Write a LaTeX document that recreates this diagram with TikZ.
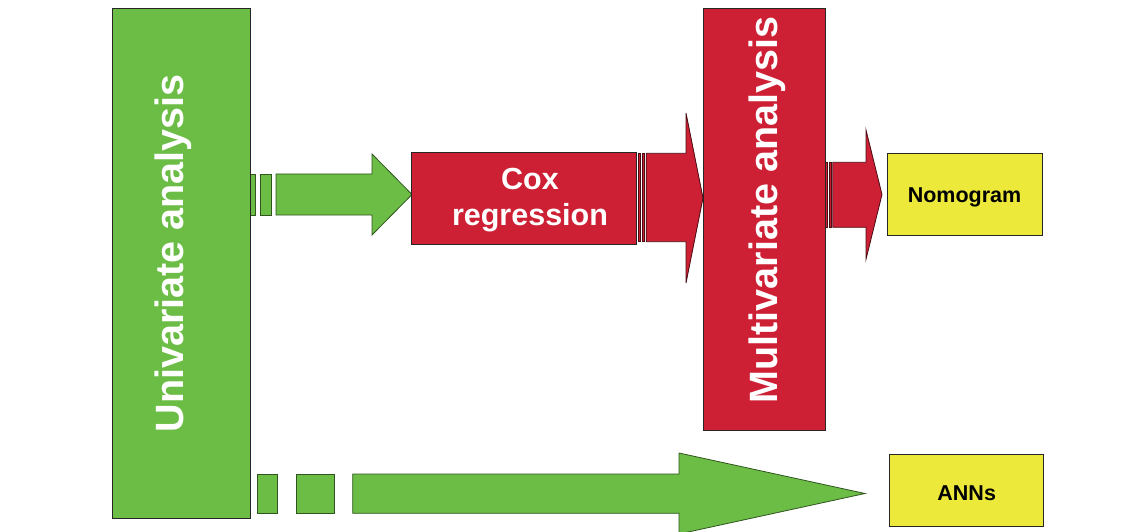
\documentclass[tikz,border=0pt]{standalone}
\usepackage{fontspec}
\setmainfont{Liberation Sans}
\definecolor{boxgreen}{RGB}{107,189,69}
\definecolor{boxred}{RGB}{206,32,52}
\definecolor{boxyellow}{RGB}{236,233,58}
\begin{document}
\begin{tikzpicture}[x=1pt,y=-1pt,
  box/.style={draw=black!85, line width=0.9pt, inner sep=0pt, outer sep=0pt},
  greenbox/.style={box, fill=boxgreen},
  redbox/.style={box, fill=boxred},
  yellowbox/.style={box, fill=boxyellow},
  bigtext/.style={text=white, font=\fontsize{39.5}{40}\selectfont\bfseries, inner sep=0pt, rotate=90, anchor=base},
  midtext/.style={text=white, font=\fontsize{30.5}{36}\selectfont\bfseries, inner sep=0pt, align=center},
  smalltext/.style={text=black, font=\fontsize{21.5}{24}\selectfont\bfseries, inner sep=0pt, anchor=base},
  greenarrow/.style={fill=boxgreen, draw=black!55!boxgreen, line width=0.8pt, line join=miter},
  redarrow/.style={fill=boxred, draw=black!65!boxred, line width=0.8pt, line join=miter},
  redstrip/.style={fill=boxred, draw=black!65!boxred, line width=0.5pt}
]
\useasboundingbox (0,0) rectangle (1141,532);
\clip (0,0) rectangle (1141,532);

% striped block arrows
% univariate -> Cox regression
\draw[greenarrow] (250,174) rectangle (255.5,215);
\draw[greenarrow] (260,174) rectangle (271,215);
\draw[greenarrow] (276,174) -- (372,174) -- (372,154) -- (412,194.5)
  -- (372,235) -- (372,215) -- (276,215) -- cycle;

% Cox regression -> multivariate
\draw[redstrip] (638.5,153.3) rectangle (640.5,241.7);
\draw[redstrip] (642,153.3) rectangle (644.3,241.7);
\draw[redarrow] (646.2,153.3) -- (686,153.3) -- (686,113) -- (703,198)
  -- (686,283) -- (686,241.7) -- (646.2,241.7) -- cycle;

% multivariate -> nomogram
\draw[redstrip] (825,162.3) rectangle (827.7,227.3);
\draw[redstrip] (829.2,162.3) rectangle (831.5,227.3);
\draw[redarrow] (832.8,162.3) -- (866,162.3) -- (866,130) -- (882,194.5)
  -- (866,259.3) -- (866,227.3) -- (832.8,227.3) -- cycle;

% univariate -> ANNs
\draw[greenarrow] (257.7,474) rectangle (277.3,513.3);
\draw[greenarrow] (296,474) rectangle (334,513.3);
\draw[greenarrow] (352.7,474) -- (679,474) -- (679,453) -- (865,493.5)
  -- (679,534) -- (679,513.3) -- (352.7,513.3) -- cycle;

% boxes
\node[greenbox, minimum width=138.2pt, minimum height=509.7pt] (univ) at (181.4,263.2) {};
\node[redbox, minimum width=224.3pt, minimum height=91.3pt] (cox) at (523.9,198.4) {};
\node[redbox, minimum width=122pt, minimum height=422pt] (multi) at (764,219) {};
\node[yellowbox, minimum width=155.7pt, minimum height=82.4pt] (nomo) at (964.9,194.5) {};
\node[yellowbox, minimum width=154pt, minimum height=72.7pt] (anns) at (966,490.4) {};

% labels
\node[bigtext] (univlabel) at (183,253.5) {Univariate analysis};
\node[bigtext] (multilabel) at (777.5,210) {Multivariate analysis};
\node[midtext] (coxlabel) at (530,200.5) {Cox\\regression};
\node[smalltext] (nomolabel) at (964.5,202.7) {Nomogram};
\node[smalltext] (annslabel) at (966.7,500) {ANNs};
\end{tikzpicture}
\end{document}
